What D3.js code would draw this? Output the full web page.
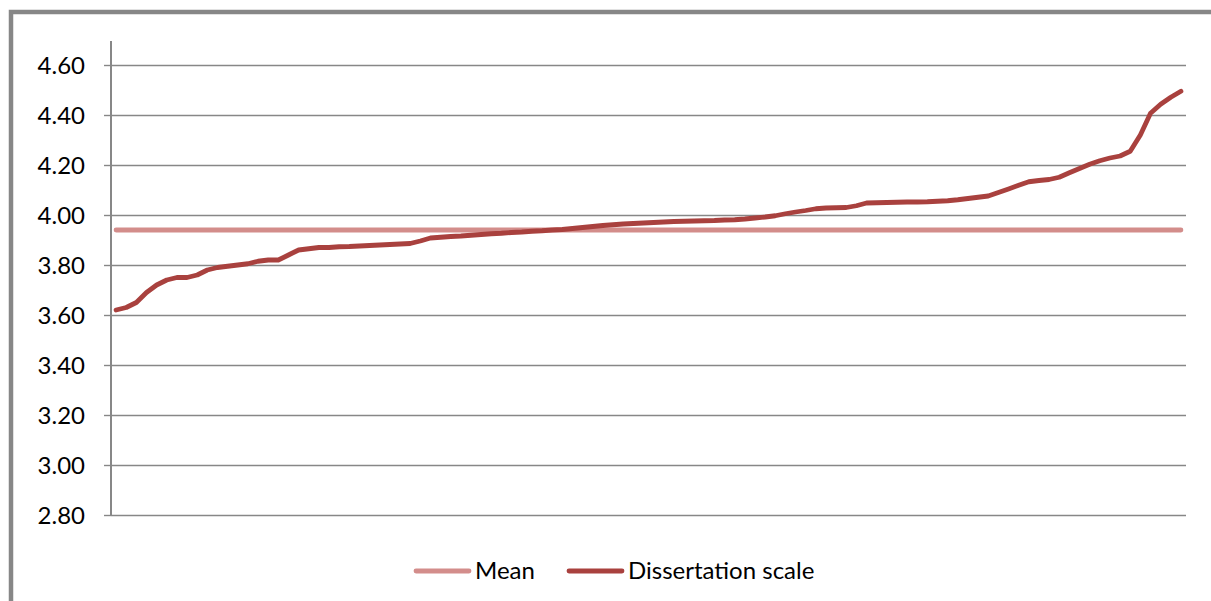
<!DOCTYPE html>
<html>
<head>
<meta charset="utf-8">
<script src="https://cdn.jsdelivr.net/npm/d3@7/dist/d3.min.js"></script>
<style>
  html, body { margin: 0; padding: 0; background: #fff; overflow: hidden; }
  svg { display: block; }
  text { font-family: Lato, "Open Sans", sans-serif; fill: #000; }
</style>
</head>
<body>
<svg id="chart" width="1211" height="601"></svg>
<script>
// Respondents' dissertation-scale scores, sorted ascending
const scores = [
  3.620, 3.630, 3.650, 3.690, 3.720, 3.740, 3.750, 3.750, 3.760, 3.780,
  3.790, 3.795, 3.800, 3.805, 3.815, 3.820, 3.820, 3.840, 3.860, 3.865,
  3.870, 3.870, 3.873, 3.874, 3.876, 3.878, 3.880, 3.882, 3.884, 3.886,
  3.896, 3.908, 3.911, 3.914, 3.916, 3.919, 3.922, 3.925, 3.927, 3.930,
  3.932, 3.935, 3.937, 3.940, 3.942, 3.946, 3.950, 3.954, 3.958, 3.961,
  3.964, 3.966, 3.968, 3.970, 3.972, 3.974, 3.975, 3.976, 3.977, 3.978,
  3.980, 3.981, 3.984, 3.988, 3.992, 3.997, 4.005, 4.012, 4.018, 4.025,
  4.028, 4.029, 4.030, 4.037, 4.048, 4.049, 4.050, 4.051, 4.052, 4.052,
  4.053, 4.055, 4.057, 4.061, 4.066, 4.071, 4.076, 4.090, 4.104, 4.119,
  4.133, 4.138, 4.142, 4.151, 4.169, 4.186, 4.203, 4.217, 4.228, 4.236,
  4.255, 4.320, 4.407, 4.443, 4.471, 4.495
];
const meanScore = 3.94;
const yTicks = [2.8, 3.0, 3.2, 3.4, 3.6, 3.8, 4.0, 4.2, 4.4, 4.6];
const seriesNames = ["Mean", "Dissertation scale"];
const seriesColors = ["#d38d8b", "#a9413e"];

const svg = d3.select("#chart");
const plot = { left: 111, right: 1186, top: 41, bottom: 516 };

const idx = d3.range(scores.length);
const x = d3.scalePoint().domain(idx).range([plot.left, plot.right]).padding(0.5);
const y = d3.scaleLinear().domain([2.8, 4.6]).range([515, 65]);

// outer chart frame
svg.append("path")
  .attr("d", "M11,610 L11,12 L1220,12")
  .attr("fill", "none")
  .attr("stroke", "#878787")
  .attr("stroke-width", 4.5);

// horizontal gridlines
svg.append("g")
  .attr("transform", `translate(${plot.left},0)`)
  .call(d3.axisLeft(y).tickValues(yTicks).tickSize(-(plot.right - plot.left)).tickFormat(""))
  .call(g => g.select(".domain").remove())
  .call(g => g.selectAll("line").attr("stroke", "#878787").attr("stroke-width", 1.4));

// value axis with tick labels
svg.append("g")
  .attr("transform", `translate(${plot.left},0)`)
  .call(d3.axisLeft(y).tickValues(yTicks).tickSize(7).tickPadding(19).tickFormat(d3.format(".2f")))
  .call(g => g.select(".domain").remove())
  .call(g => g.selectAll("line").attr("stroke", "#878787").attr("stroke-width", 1.4))
  .call(g => g.selectAll("text")
    .attr("font-family", "Lato, 'Open Sans', sans-serif")
    .attr("font-size", 24)
    .attr("fill", "#000")
    .attr("dy", "0.36em"));

svg.append("line")
  .attr("x1", plot.left).attr("x2", plot.left)
  .attr("y1", plot.top).attr("y2", plot.bottom)
  .attr("stroke", "#878787").attr("stroke-width", 2);

// mean reference line
const first = idx[0], last = idx[idx.length - 1];
svg.append("line")
  .attr("x1", x(first)).attr("x2", x(last))
  .attr("y1", y(meanScore)).attr("y2", y(meanScore))
  .attr("stroke", seriesColors[0])
  .attr("stroke-width", 4.8)
  .attr("stroke-linecap", "round");

// sorted score curve
svg.append("path")
  .datum(scores)
  .attr("fill", "none")
  .attr("stroke", seriesColors[1])
  .attr("stroke-width", 4.8)
  .attr("stroke-linejoin", "round")
  .attr("stroke-linecap", "round")
  .attr("d", d3.line().x((d, i) => x(i)).y(d => y(d)));

// legend
const legendItems = [
  { name: seriesNames[0], color: seriesColors[0], x0: 416 },
  { name: seriesNames[1], color: seriesColors[1], x0: 569 }
];
const lg = svg.append("g");
legendItems.forEach(item => {
  lg.append("line")
    .attr("x1", item.x0).attr("x2", item.x0 + 53)
    .attr("y1", 571).attr("y2", 571)
    .attr("stroke", item.color)
    .attr("stroke-width", 4.8)
    .attr("stroke-linecap", "round");
  lg.append("text")
    .attr("x", item.x0 + 59)
    .attr("y", 579)
    .attr("font-size", 24)
    .text(item.name);
});
</script>
</body>
</html>
